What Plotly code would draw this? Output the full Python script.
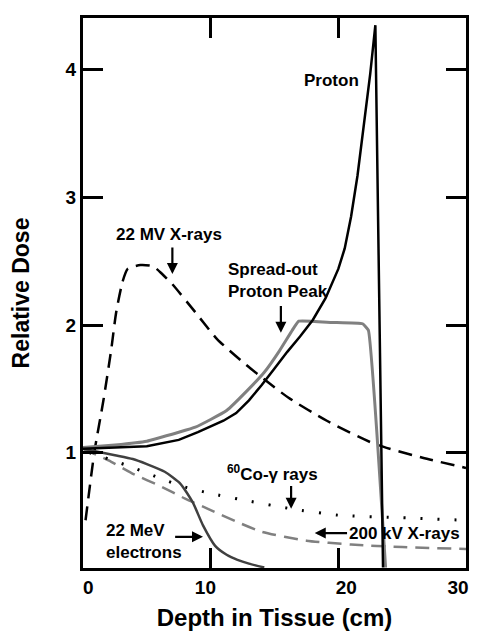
import plotly.graph_objects as go

# ---- data ----
proton_x = [0, 3, 5, 7.5, 9, 11, 12, 13, 14, 15, 16, 17, 18, 19, 20, 20.5, 21, 21.5, 22, 22.5, 22.9, 23.5]
proton_y = [1.03, 1.04, 1.05, 1.10, 1.16, 1.25, 1.31, 1.41, 1.53, 1.66, 1.79, 1.91, 2.04, 2.21, 2.44, 2.60, 2.85, 3.17, 3.56, 3.97, 4.35, 0.10]

sobp_x = [0, 2.5, 5, 7.5, 8.8, 10, 11.25, 12.9, 14.2, 15.4, 16.4, 16.9, 19.5, 21.9, 22.35, 23.7]
sobp_y = [1.04, 1.06, 1.09, 1.16, 1.20, 1.26, 1.33, 1.49, 1.63, 1.80, 1.96, 2.03, 2.02, 2.01, 1.96, 0.10]

mv22_x = [0.2, 0.9, 1.6, 2.2, 2.6, 3.1, 3.5, 4.5, 5.5, 6.2, 7.0, 8.8, 10.5, 12.75, 14.0, 16.1, 19.1, 22.8, 26.6, 30]
mv22_y = [0.47, 1.01, 1.41, 1.80, 2.10, 2.34, 2.44, 2.47, 2.46, 2.40, 2.32, 2.10, 1.89, 1.69, 1.59, 1.43, 1.25, 1.07, 0.96, 0.88]

elec_x = [0, 2.5, 3.9, 5.0, 6.4, 7.6, 8.6, 9.4, 10.35, 11.25, 12.1, 13.0, 14.2]
elec_y = [1.03, 0.98, 0.95, 0.91, 0.85, 0.76, 0.61, 0.43, 0.27, 0.20, 0.16, 0.13, 0.10]

co60_x = [0.5, 2, 4, 6, 8, 10, 12.5, 16.3, 20, 25, 30]
co60_y = [1.00, 0.95, 0.88, 0.80, 0.73, 0.68, 0.63, 0.56, 0.51, 0.49, 0.47]

kv200_x = [0, 2, 4, 6, 8, 10, 12, 14, 17.5, 21, 25, 30]
kv200_y = [1.03, 0.94, 0.83, 0.74, 0.64, 0.55, 0.46, 0.38, 0.31, 0.28, 0.26, 0.245]

x_ticks = [0, 10, 20, 30]
y_ticks = [1, 2, 3, 4]

FONT = "Arial"
NB = "\u00a0"

fig = go.Figure()
fig.add_trace(go.Scatter(x=mv22_x, y=mv22_y, mode="lines",
                         line=dict(color="black", width=2.5, dash="14px,8px", shape="spline", smoothing=0.6)))
fig.add_trace(go.Scatter(x=kv200_x, y=kv200_y, mode="lines",
                         line=dict(color="#808080", width=2.5, dash="14px,8px", shape="spline", smoothing=0.6)))
fig.add_trace(go.Scatter(x=co60_x, y=co60_y, mode="lines",
                         line=dict(color="black", width=3, dash="2px,15px", shape="spline", smoothing=0.6)))
fig.add_trace(go.Scatter(x=elec_x, y=elec_y, mode="lines",
                         line=dict(color="#404040", width=2.5, shape="spline", smoothing=0.6)))
fig.add_trace(go.Scatter(x=sobp_x, y=sobp_y, mode="lines",
                         line=dict(color="#808080", width=3, shape="spline", smoothing=0.3)))
fig.add_trace(go.Scatter(x=proton_x, y=proton_y, mode="lines",
                         line=dict(color="black", width=2.5)))

ann_font = dict(family=FONT, size=17, color="black")
texts = [
    dict(x=19.5, y=3.92, text="<b>Proton</b>", xanchor="center"),
    dict(x=6.7, y=2.71, text="<b>22 MV X-rays</b>", xanchor="center"),
    dict(x=11.2, y=2.35, text="<b>Spread-out<br>Proton Peak</b>", xanchor="left", align="left"),
    dict(x=11.1, y=0.84, text="<b><sup>60</sup>Co-γ rays</b>", xanchor="left"),
    dict(x=25.2, y=0.37, text="<b>200 kV X-rays</b>", xanchor="center"),
    dict(x=1.65, y=0.30, text="<b>22 MeV<br>electrons</b>", xanchor="left", align="left"),
]
for t in texts:
    fig.add_annotation(showarrow=False, font=ann_font, yanchor="middle", xref="x", yref="y", **t)

arrows = [
    (7.0, 2.40, 7.0, 2.62),
    (15.5, 1.94, 15.5, 2.16),
    (16.3, 0.56, 16.3, 0.75),
    (18.15, 0.37, 20.8, 0.37),
    (9.4, 0.34, 7.1, 0.34),
]
for hx, hy, tx, ty in arrows:
    fig.add_annotation(x=hx, y=hy, ax=tx, ay=ty, xref="x", yref="y", axref="x", ayref="y",
                       text="", showarrow=True, arrowhead=2, arrowsize=1, arrowwidth=2.2,
                       arrowcolor="black")

axis_common = dict(showline=True, linecolor="black", linewidth=3, mirror="ticks",
                   ticks="inside", ticklen=20, tickwidth=3, tickcolor="black",
                   gridcolor="white", zerolinecolor="white",
                   tickfont=dict(family=FONT, size=19, color="black"))

x_text = [f"<b>{NB * 2}0</b>", f"<b>10{NB * 2}</b>", f"<b>{NB * 3}20</b>", f"<b>30{NB * 3}</b>"]

fig.update_layout(
    width=483, height=637,
    margin=dict(l=75, r=8, t=7, b=77),
    plot_bgcolor="white", paper_bgcolor="white",
    showlegend=False,
    xaxis=dict(range=[0, 30], tickvals=x_ticks, ticktext=x_text, ticklabeloverflow="allow",
               title=dict(text="<b>Depth in Tissue (cm)</b>", font=dict(family=FONT, size=24, color="black"),
                          standoff=13),
               **axis_common),
    yaxis=dict(range=[0.096, 4.406], tickvals=y_ticks,
               ticktext=[f"<b>{v}</b>" for v in y_ticks],
               title=dict(text="<b>Relative Dose</b>", font=dict(family=FONT, size=23, color="black"),
                          standoff=30),
               **axis_common),
)

fig.write_html("out.html")
